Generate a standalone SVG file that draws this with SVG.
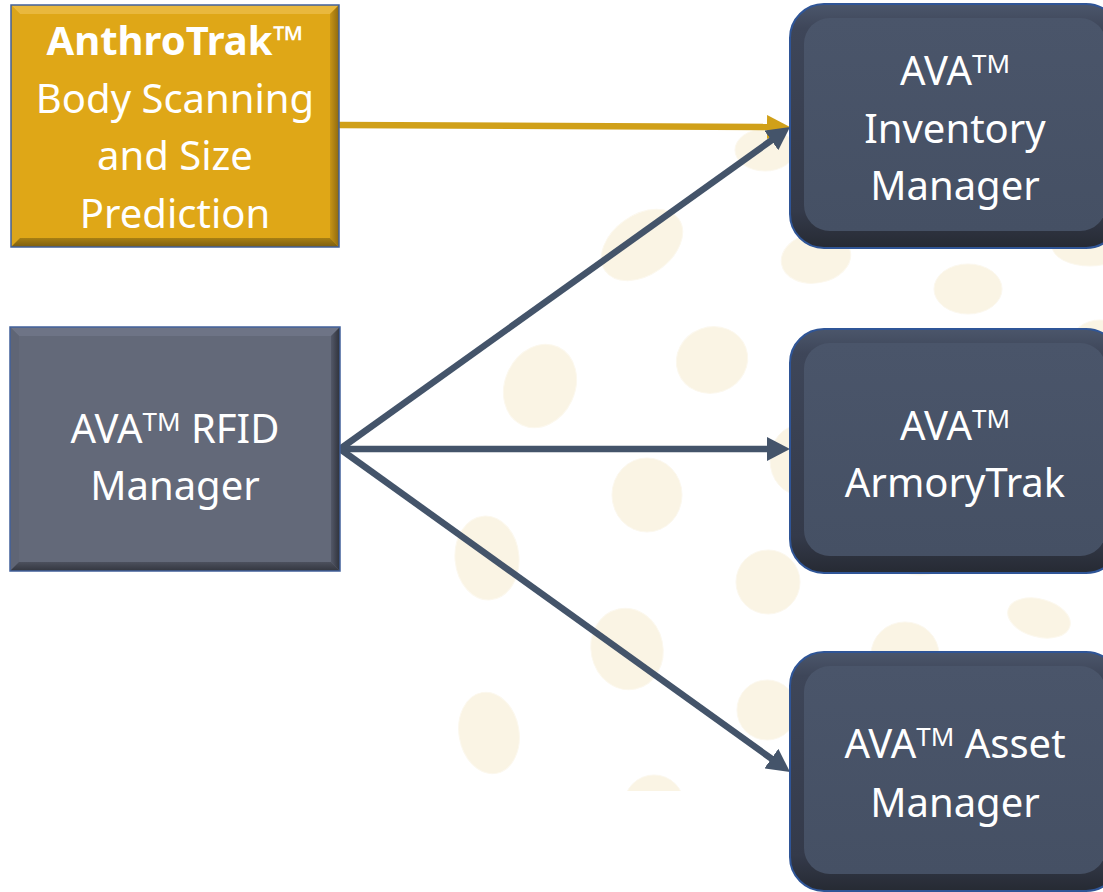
<svg xmlns="http://www.w3.org/2000/svg" width="1103" height="892" viewBox="0 0 1103 892">
<defs>
<style>
.bg{fill:#FAF4E4;stroke:#FCF8EE;stroke-width:1}
.t{fill:#FFFFFF;font-family:"Noto Sans","Open Sans",sans-serif;font-size:40px;text-anchor:middle}
.b{font-weight:bold}
.sup{font-size:26px}
.ava-outer{fill:url(#avaOuter);stroke:#2F5597;stroke-width:2}
.ava-face{fill:url(#avaFace)}
.gray-line{stroke:#44546A;stroke-width:6.5;fill:none}
.gold-line{stroke:#D0A019;stroke-width:6.5;fill:none}
.edge{fill:none;stroke:#41609A;stroke-width:1.5}
</style>
<clipPath id="bgClip"><rect x="0" y="0" width="1103" height="791"/></clipPath>
<linearGradient id="avaOuter" x1="0" y1="0" x2="0" y2="1">
<stop offset="0" stop-color="#4B566B"/>
<stop offset="0.1" stop-color="#3E4659"/>
<stop offset="0.85" stop-color="#343A4A"/>
<stop offset="1" stop-color="#262A33"/>
</linearGradient>
<linearGradient id="avaFace" x1="0" y1="0" x2="0" y2="1">
<stop offset="0" stop-color="#4A556A"/>
<stop offset="1" stop-color="#455064"/>
</linearGradient>
<linearGradient id="goldRight" x1="0" y1="0" x2="1" y2="0">
<stop offset="0" stop-color="#C79416"/>
<stop offset="1" stop-color="#8E6910"/>
</linearGradient>
<linearGradient id="goldBottom" x1="0" y1="0" x2="0" y2="1">
<stop offset="0" stop-color="#A77F14"/>
<stop offset="1" stop-color="#7D5E10"/>
</linearGradient>
<linearGradient id="grayRight" x1="0" y1="0" x2="1" y2="0">
<stop offset="0" stop-color="#535868"/>
<stop offset="1" stop-color="#2E313A"/>
</linearGradient>
<linearGradient id="grayBottom" x1="0" y1="0" x2="0" y2="1">
<stop offset="0" stop-color="#4C505D"/>
<stop offset="1" stop-color="#33363F"/>
</linearGradient>
<marker id="arrowGray" markerUnits="userSpaceOnUse" markerWidth="24" markerHeight="24" refX="5" refY="12" orient="auto">
<path d="M0,0 L23,12 L0,24 Z" fill="#44546A"/>
</marker>
<marker id="arrowGold" markerUnits="userSpaceOnUse" markerWidth="24" markerHeight="24" refX="5" refY="12" orient="auto">
<path d="M0,0 L23,12 L0,24 Z" fill="#D0A019"/>
</marker>
</defs>

<rect x="0" y="0" width="1103" height="892" fill="#FFFFFF"/>

<g id="background" clip-path="url(#bgClip)">
<ellipse class="bg" cx="765" cy="150" rx="30" ry="21"/>
<ellipse class="bg" cx="642" cy="245" rx="45" ry="30" transform="rotate(-35 642 245)"/>
<ellipse class="bg" cx="816" cy="258" rx="35" ry="25" transform="rotate(-10 816 258)"/>
<ellipse class="bg" cx="968" cy="289" rx="34" ry="25"/>
<ellipse class="bg" cx="1090" cy="246" rx="38" ry="20"/>
<ellipse class="bg" cx="1100" cy="345" rx="30" ry="25"/>
<ellipse class="bg" cx="540" cy="386" rx="35" ry="43" transform="rotate(25 540 386)"/>
<ellipse class="bg" cx="712" cy="360" rx="36" ry="33" transform="rotate(-20 712 360)"/>
<ellipse class="bg" cx="800" cy="460" rx="30" ry="35"/>
<ellipse class="bg" cx="647" cy="495" rx="35" ry="37"/>
<ellipse class="bg" cx="487" cy="558" rx="32" ry="42" transform="rotate(-5 487 558)"/>
<ellipse class="bg" cx="768" cy="582" rx="32" ry="32"/>
<ellipse class="bg" cx="920" cy="545" rx="40" ry="30"/>
<ellipse class="bg" cx="1039" cy="618" rx="32" ry="19" transform="rotate(15 1039 618)"/>
<ellipse class="bg" cx="905" cy="655" rx="34" ry="33"/>
<ellipse class="bg" cx="627" cy="649" rx="36" ry="41" transform="rotate(-12 627 649)"/>
<ellipse class="bg" cx="767" cy="710" rx="30" ry="30"/>
<ellipse class="bg" cx="489" cy="733" rx="30" ry="41" transform="rotate(-10 489 733)"/>
<ellipse class="bg" cx="654" cy="805" rx="30" ry="30"/>
</g>

<g id="connectors">
<line class="gold-line" x1="339" y1="125" x2="772" y2="127" marker-end="url(#arrowGold)"/>
<line class="gray-line" x1="340" y1="449" x2="775.4" y2="137.5" marker-end="url(#arrowGray)"/>
<line class="gray-line" x1="340" y1="449" x2="772" y2="449" marker-end="url(#arrowGray)"/>
<line class="gray-line" x1="340" y1="449" x2="775.4" y2="761.5" marker-end="url(#arrowGray)"/>
</g>

<g id="anthrotrak">
<rect x="11" y="5" width="328" height="242" fill="#DFA717"/>
<polygon points="11,5 339,5 330,14 20,14" fill="#E9B83D"/>
<polygon points="11,5 20,14 20,238 11,247" fill="#DBA51C"/>
<polygon points="339,5 339,247 330,238 330,14" fill="url(#goldRight)"/>
<polygon points="11,247 20,238 330,238 339,247" fill="url(#goldBottom)"/>
<rect class="edge" x="11" y="5" width="328" height="242"/>
<text class="t b" x="175" y="55">AnthroTrak™</text>
<text class="t" x="175" y="113">Body Scanning</text>
<text class="t" x="175" y="170">and Size</text>
<text class="t" x="175" y="228">Prediction</text>
</g>

<g id="rfid">
<rect x="10" y="327" width="330" height="244" fill="#636979"/>
<polygon points="10,327 340,327 331,336 19,336" fill="#6E7486"/>
<polygon points="10,327 19,336 19,562 10,571" fill="#5F6575"/>
<polygon points="340,327 340,571 331,562 331,336" fill="url(#grayRight)"/>
<polygon points="10,571 19,562 331,562 340,571" fill="url(#grayBottom)"/>
<rect class="edge" x="10" y="327" width="330" height="244"/>
<text class="t" x="175" y="443">AVA<tspan class="sup" dy="-12">TM</tspan><tspan dy="12"> RFID</tspan></text>
<text class="t" x="175" y="500">Manager</text>
</g>

<g id="inventory">
<rect class="ava-outer" x="790" y="4" width="330" height="244" rx="34"/>
<rect class="ava-face" x="804" y="18" width="302" height="213" rx="26"/>
<text class="t" x="955" y="85">AVA<tspan class="sup" dy="-12">TM</tspan></text>
<text class="t" x="955" y="143">Inventory</text>
<text class="t" x="955" y="200">Manager</text>
</g>

<g id="armorytrak">
<rect class="ava-outer" x="790" y="329" width="330" height="244" rx="34"/>
<rect class="ava-face" x="804" y="343" width="302" height="213" rx="26"/>
<text class="t" x="955" y="440">AVA<tspan class="sup" dy="-12">TM</tspan></text>
<text class="t" x="955" y="497">ArmoryTrak</text>
</g>

<g id="asset">
<rect class="ava-outer" x="790" y="652" width="330" height="239" rx="34"/>
<rect class="ava-face" x="804" y="666" width="302" height="208" rx="26"/>
<text class="t" x="955" y="758">AVA<tspan class="sup" dy="-12">TM</tspan><tspan dy="12"> Asset</tspan></text>
<text class="t" x="955" y="817">Manager</text>
</g>
</svg>
